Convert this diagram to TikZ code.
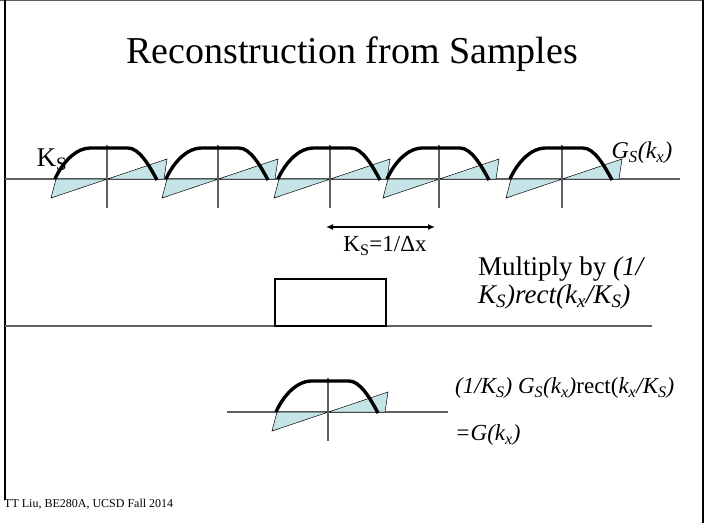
\documentclass[tikz,border=0pt]{standalone}
\usepackage{fontspec}
\setmainfont{Liberation Serif}
\usepackage{xcolor}
\usepackage{tikz}
\usetikzlibrary{arrows.meta}
\definecolor{sampfill}{RGB}{196,228,232}
\definecolor{axisgray}{RGB}{95,95,95}
\def\toprow{179}
\def\botrow{412}
\def\midrow{326}
% one replica: #1 centre, #2 axis height
\newcommand{\drawhump}[2]{%
	\filldraw[fill=sampfill, draw=black, line width=0.5pt]
		(#1-51,#2) -- (#1-56,#2+19) -- (#1+60,#2-20) -- (#1+57,#2) -- cycle;
	\draw[axis] (#1,#2-34) -- (#1,#2+29);
	\draw[hump] (#1-52,#2) .. controls (#1-44,#2-18) and (#1-30,#2-31) .. (#1-17,#2-31)
		-- (#1+21,#2-31) .. controls (#1+32,#2-31) and (#1+42,#2-14) .. (#1+50,#2+1);
}

\begin{document}
\begin{tikzpicture}[x=1pt, y=-1pt,
		axis/.style={draw=axisgray, line width=1.1pt},
		hump/.style={draw=black, line width=3.4pt},
		lbl/.style={font=\fontsize{23}{27}\selectfont, inner sep=0pt},
		biglbl/.style={font=\fontsize{27}{28}\selectfont, inner sep=0pt}]
	\useasboundingbox (0,0) rectangle (705,523);
	% frame
	\draw[axisgray, line width=0.8pt] (0,0.5) -- (704,0.5);
	\draw[black, line width=2.4pt] (5,0) -- (5,500);
	\draw[black, line width=2pt] (703,0) -- (703,523);
	\node[lbl, anchor=base] (title) at (352,63) {\fontsize{38}{42}\selectfont Reconstruction from Samples};
	% sampled spectrum
	\coordinate (ta) at (5,\toprow);
	\coordinate (tb) at (680,\toprow);
	\draw[axis] (ta) -- (tb);
	\foreach \c in {107,218,330,439,562}
		\drawhump{\c}{\toprow};
	\node[biglbl] (kslbl) at (52,160) {K\textsubscript{S}};
	\node[lbl, font=\fontsize{24}{27}\selectfont] (gslbl) at (642,153) {\textit{G\textsubscript{S}(k\textsubscript{x})}};
	\coordinate (ksl) at (326,227);
	\coordinate (ksr) at (435,227);
	\draw[{Latex[length=7pt,width=6pt]}-{Latex[length=7pt,width=6pt]}, line width=1.6pt] (ksl) -- (ksr);
	\node[lbl] (kseq) at (385,246) {K\textsubscript{S}=1/Δx};
	% rect window
	\coordinate (ma) at (5,\midrow);
	\coordinate (mb) at (652,\midrow);
	\draw[axis] (ma) -- (mb);
	\node[draw=black, line width=2pt, minimum width=111pt, minimum height=47pt, inner sep=0pt]
		(win) at (330.5,302.5) {};
	\node[biglbl, anchor=west, align=left] (mult) at (478,283)
		{Multiply by \textit{(1/}\\\textit{K\textsubscript{S})rect(k\textsubscript{x}/K\textsubscript{S})}};
	% recovered spectrum
	\coordinate (ba) at (227,\botrow);
	\coordinate (bb) at (448,\botrow);
	\draw[axis] (ba) -- (bb);
	\drawhump{328}{\botrow}
	\node[lbl, anchor=west] (prod) at (455,388)
		{\textit{(1/K\textsubscript{S}) G\textsubscript{S}(k\textsubscript{x})}rect(\textit{k\textsubscript{x}/K\textsubscript{S})}};
	\node[lbl, anchor=west] (res) at (455,435) {\textit{=G(k\textsubscript{x})}};
	\node[anchor=west, inner sep=0pt, font=\fontsize{12}{14}\selectfont] (foot) at (4,504) {TT Liu, BE280A, UCSD Fall 2014};
\end{tikzpicture}
\end{document}
